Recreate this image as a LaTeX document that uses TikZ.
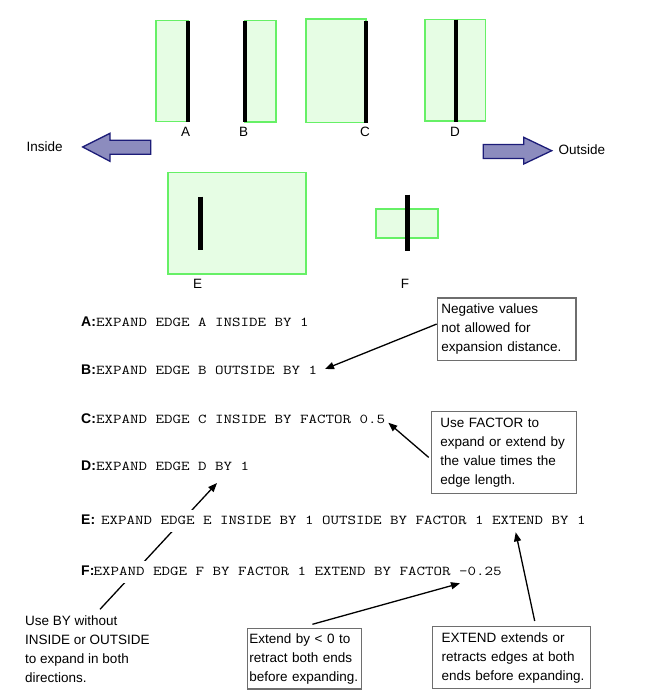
\documentclass[tikz,border=0pt]{standalone}
\usepackage{fontspec}
\setmainfont{Liberation Sans}
\setsansfont{Liberation Sans}
\usetikzlibrary{arrows.meta,calc}
\definecolor{regfill}{HTML}{E6FDE4}
\definecolor{regdraw}{HTML}{66F066}
\definecolor{arrfill}{HTML}{8C8CBE}
\definecolor{arrdraw}{HTML}{1C1C78}
\definecolor{boxdraw}{HTML}{6E6E6E}
\hyphenpenalty=10000
\exhyphenpenalty=10000
\newcommand\codetext[1]{\scalebox{1}[0.82]{#1}}
\begin{document}
\begin{tikzpicture}[x=1pt,y=-1pt,
  region/.style={fill=regfill,draw=regdraw,line width=1.6pt},
  edgeline/.style={line width=4.5pt,black},
  lbl/.style={font=\fontsize{13.5}{16}\selectfont,inner sep=0},
  dirarrow/.style={fill=arrfill,draw=arrdraw,line width=1.3pt,line join=miter},
  caselbl/.style={font=\fontsize{14}{16}\selectfont\bfseries,anchor=base west,inner sep=0},
  code/.style={font=\fontsize{16.5}{16}\selectfont\ttfamily,anchor=base west,inner xsep=0,inner ysep=4pt,text height=10pt,text depth=4pt},
  note/.style={draw=boxdraw,line width=1.4pt,align=left,font=\fontsize{13.5}{19}\selectfont,anchor=north west,inner ysep=0},
  freetext/.style={align=left,font=\fontsize{13.5}{19}\selectfont,anchor=north west,inner sep=0},
  callout/.style={line width=1.3pt,-{Triangle[length=9pt,width=7pt]}}
]
\useasboundingbox (0,0) rectangle (650,695);

% edges and regions
\draw[region] (155.7,20.7) rectangle (188,121.7);
\draw[edgeline] (188,20.7) -- (188,122.3);
\draw[region] (245,20.7) rectangle (276,122);
\draw[edgeline] (245,20.7) -- (245,122.3);
\draw[region] (306,19.3) rectangle (366,122.7);
\draw[edgeline] (366,20.7) -- (366,122.7);
\draw[region] (425,19.7) rectangle (485.3,121);
\draw[edgeline] (456,19.7) -- (456,122.3);
\draw[region] (167.7,172.3) rectangle (306,274);
\draw[edgeline] (200.7,196.7) -- (200.7,250);
\draw[region] (376,209) rectangle (438,238);
\draw[edgeline] (407.7,194.7) -- (407.7,251);

\node[lbl] (la) at (185.7,132.3) {A};
\node[lbl] (lb) at (243.7,132.3) {B};
\node[lbl] (lc) at (365,132.3) {C};
\node[lbl] (ld) at (455,132.3) {D};
\node[lbl] (le) at (197.7,284.3) {E};
\node[lbl] (lf) at (405,283.7) {F};

% direction arrows
\draw[dirarrow] (82.7,147) -- (110,133.3) -- (110,140.3) -- (150.7,140.3) -- (150.7,154.3) -- (110,154.3) -- (110,161.3) -- cycle;
\draw[dirarrow] (551.7,150.7) -- (523.7,137.3) -- (523.7,144.5) -- (483.3,144.5) -- (483.3,158.5) -- (523.7,158.5) -- (523.7,164) -- cycle;
\node[lbl] (inside) at (44.7,146.7) {Inside};
\node[lbl,anchor=west] (outside) at (558.3,149.3) {Outside};

% free note and its connector (drawn under the code lines)
\node[freetext] (useby) at (25,616) {Use BY without\\INSIDE or OUTSIDE\\to expand in both\\directions.};
\coordinate (byfrom) at (100,609.3);
\coordinate (byto) at (217,483);
\draw[callout] (byfrom) -- (byto);

% code lines
\node[caselbl] (ka) at (81,326) {A:};
\node[code] (ca) at (96,326) {\codetext{EXPAND EDGE A INSIDE BY 1}};
\node[caselbl] (kb) at (81,374.3) {B:};
\node[code] (cb) at (96,374.3) {\codetext{EXPAND EDGE B OUTSIDE BY 1}};
\node[caselbl] (kc) at (81,423) {C:};
\node[code] (cc) at (96,423) {\codetext{EXPAND EDGE C INSIDE BY FACTOR 0.5}};
\node[caselbl] (kd) at (81,470.7) {D:};
\node[code] (cd) at (96,470.7) {\codetext{EXPAND EDGE D BY 1}};
\node[caselbl] (ke) at (81,524) {E:};
\node[code,fill=white] (ce) at (101,524) {\codetext{EXPAND EDGE E INSIDE BY 1 OUTSIDE BY FACTOR 1 EXTEND BY 1}};
\node[caselbl] (kf) at (81,575) {F:};
\node[code,fill=white] (cf) at (93.5,575) {\codetext{EXPAND EDGE F BY FACTOR 1 EXTEND BY FACTOR -0.25}};

% notes
\node[note,inner xsep=4pt,text width=130.6pt,minimum width=138.6pt,minimum height=62.7pt] (n1) at (436.7,297.3)
  {Negative~values\\not~allowed~for\\expansion~distance.};
\node[note,inner xsep=9pt,text width=127pt,minimum width=145pt,minimum height=82pt] (n2) at (430.7,410.7)
  {Use~FACTOR~to\\expand~or~extend~by\\the~value~times~the\\edge~length.};
\node[note,inner xsep=2pt,text width=110pt,minimum width=114pt,minimum height=60.6pt] (n3) at (246.7,627.7)
  {Extend~by~<~0~to\\retract~both~ends\\before~expanding.};
\node[note,inner xsep=9pt,text width=140pt,minimum width=158pt,minimum height=61.7pt] (n4) at (432,626)
  {EXTEND~extends~or\\retracts~edges~at~both\\ends~before~expanding.};

\coordinate (t1) at (325,369);
\coordinate (t2) at (388.3,422.7);
\coordinate (t3) at (460,583.3);
\coordinate (t4) at (515.7,532.3);
\draw[callout] ($(n1.west)+(0,-5.3)$) -- (t1);
\draw[callout] ($(n2.west)+(-2,5)$) -- (t2);
\draw[callout] ($(n3.north)+(8,-3.4)$) -- (t3);
\draw[callout] ($(n4.north)+(23,-5)$) -- (t4);
\end{tikzpicture}
\end{document}
